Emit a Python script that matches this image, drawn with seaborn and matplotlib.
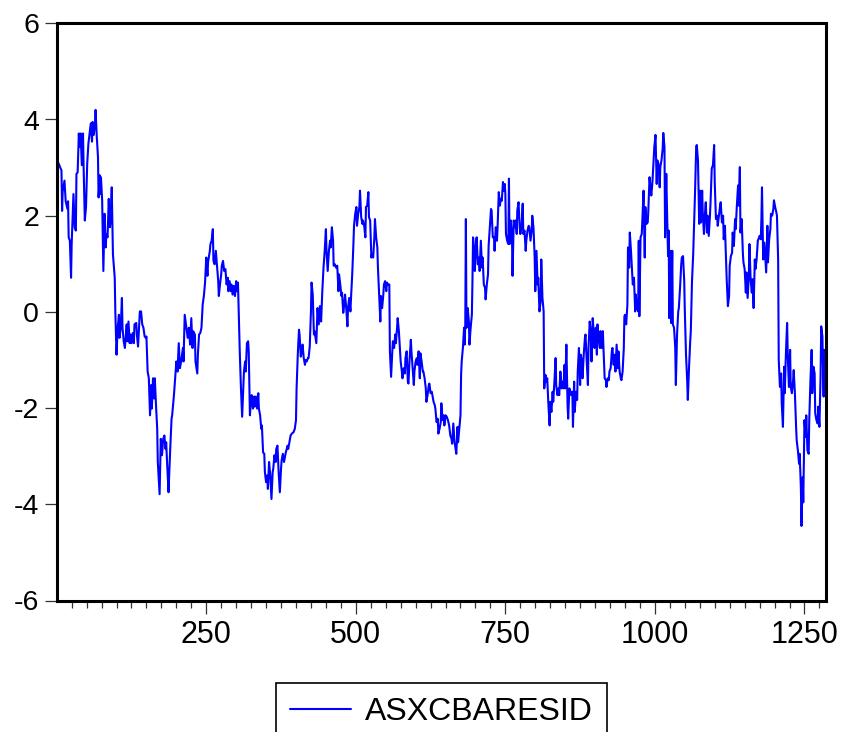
import numpy as np
import pandas as pd
import matplotlib
matplotlib.use("Agg")
import matplotlib.pyplot as plt
from matplotlib.ticker import MultipleLocator, FixedLocator
from matplotlib import font_manager
import seaborn as sns

# ---------------- data ----------------
series_name = "ASXCBARESID"
y_ticks = [-6, -4, -2, 0, 2, 4, 6]
x_major_ticks = [250, 500, 750, 1000, 1250]

seg1_obs = [2, 8, 9, 10, 13, 15, 18, 19, 20, 22, 24, 25, 28, 30, 32, 33, 35, 37, 38, 40,
            42, 44, 45, 47, 49, 51, 53, 55, 57, 59, 60, 62, 64, 65, 67, 69, 70, 72, 73, 74,
            76, 78, 80, 82, 83, 85, 87, 89, 90, 92, 94, 97, 98, 100, 102, 104, 105, 107, 109, 110,
            112, 114, 117, 118, 120, 122, 123, 125, 127, 129, 130, 133, 134, 136, 138, 139, 141, 143, 145, 147,
            149, 150, 152, 154, 156, 158, 159, 161, 163, 164, 166, 168, 169, 172, 174, 176, 178, 180, 182, 183,
            185, 187, 188, 190, 192, 193, 196, 198, 200, 202, 204, 206, 208, 211, 212, 214]
seg1_val = [3.12, 2.94, 2.1, 2.5, 2.73, 2.3, 2.14, 2.3, 1.55, 1.48,
            0.71, 1.41, 2.45, 1.76, 1.69, 2.87, 2.9, 3.71, 3.43, 3.71,
            3.05, 3.71, 3.01, 1.9, 2.18, 3.08, 3.5, 3.71, 3.92, 3.54,
            3.95, 3.68, 3.92, 4.2, 3.64, 3.22, 2.38, 2.84, 2.45, 2.8,
            2.31, 0.85, 2.04, 1.34, 1.62, 1.55, 2.35, 1.76, 1.9, 2.59,
            1.2, 0.71, 0.01, -0.89, -0.33, -0.06, -0.54, -0.33, 0.29, -0.33,
            -0.61, -0.75, -0.26, -0.61, -0.2, -0.65, -0.47, -0.65, -0.44, -0.65,
            -0.26, -0.23, -0.47, -0.72, -0.26, 0.01, 0.01, -0.26, -0.33, -0.51,
            -0.54, -0.51, -1.24, -1.38, -2.15, -1.52, -2.01, -1.38, -1.8, -1.38,
            -1.94, -2.43, -3.12, -3.79, -2.64, -2.98, -2.64, -2.57, -2.85, -2.71,
            -3.26, -3.75, -3.4, -2.78, -2.22, -2.15, -1.73, -1.38, -1.03, -1.24,
            -0.65, -1.17, -1.03, -0.75, -1.03, -0.06]

seg2_obs = [219, 221, 223, 225, 227, 228, 231, 232, 235, 236, 238, 240, 242, 244, 246, 248, 250, 252, 253, 256,
            257, 259, 261, 262, 264, 266, 268, 270, 271, 273, 275, 276, 278, 280, 282, 284, 286, 287, 289, 291,
            292, 294, 296, 298, 300, 301, 303, 305, 306, 308, 310, 311, 313, 315, 316, 318, 320, 321, 323, 325,
            326, 328, 330, 331, 333, 335, 337, 338, 340, 342, 343, 345, 347, 348, 350, 352, 353, 355, 357, 359,
            361, 362, 364, 366, 367, 369, 371, 373, 375, 376, 378, 380, 382, 383, 386, 387, 389, 391, 393, 396,
            398, 400, 401, 403, 405, 406, 408, 410, 411, 413, 415, 416, 418, 420, 421, 423, 425, 426, 428, 430,
            431]
seg2_val = [-0.54, -0.33, -0.68, -0.13, -0.75, -0.4, -0.47, -1.03, -1.28, -0.89,
            -0.47, -0.44, -0.33, 0.15, 0.33, 0.61, 1.13, 0.75, 1.03, 1.27,
            1.41, 1.48, 1.72, 1.06, 0.99, 1.27, 0.96, 0.64, 0.33, 0.57,
            0.78, 0.96, 1.06, 0.85, 0.89, 0.57, 0.71, 0.43, 0.64, 0.43,
            0.57, 0.36, 0.54, 0.33, 0.64, 0.43, 0.61, -0.33, -0.82, -1.59,
            -2.18, -1.87, -1.24, -1.03, -1.24, -0.65, -0.61, -0.82, -2.15, -1.8,
            -1.73, -2.01, -1.76, -1.97, -1.76, -2.01, -1.69, -2.01, -2.15, -2.43,
            -2.36, -2.92, -2.95, -3.33, -3.54, -3.4, -3.68, -3.12, -3.4, -3.89,
            -3.33, -3.26, -2.98, -3.12, -2.85, -2.78, -3.33, -3.75, -3.26, -3.09,
            -2.95, -3.12, -2.98, -2.92, -2.78, -2.85, -2.71, -2.57, -2.53, -2.5,
            -2.43, -2.25, -1.59, -0.89, -0.37, -0.47, -0.93, -0.82, -0.68, -0.96,
            -1.1, -1.0, -1.03, -0.96, -0.96, -0.72, 0.01, 0.61, 0.36, -0.47,
            -0.4]

seg3_obs = [434, 436, 438, 440, 442, 444, 446, 448, 450, 451, 453, 455, 457, 458, 460, 462, 463, 465, 467, 469,
            471, 472, 474, 476, 477, 479, 481, 482, 484, 486, 487, 489, 491, 492, 494, 496, 497, 499, 501, 502,
            504, 506, 507, 509, 511, 512, 514, 516, 517, 519, 521, 522, 524, 526, 527, 529, 531, 532, 534, 536,
            537, 539, 541, 542, 544, 546, 547, 549, 551, 552, 554, 556, 557, 559, 561, 562, 564, 566, 567, 569,
            570, 572, 573, 575, 577, 578, 580, 582, 583, 585, 587, 588, 590, 592, 593, 595, 597, 598, 600, 602,
            603, 605, 607, 608, 610, 612, 613, 615, 617, 618, 620, 622, 623, 625, 627, 628, 630, 632, 633, 635,
            637, 638, 640, 642, 643, 645, 647, 648]
seg3_val = [-0.65, 0.08, -0.26, 0.12, -0.2, 0.43, 0.92, 1.27, 1.72, 1.27,
            0.85, 1.27, 1.48, 1.34, 1.76, 1.48, 0.96, 0.99, 0.92, 0.96,
            0.43, 0.78, 0.57, 0.33, 0.4, -0.02, 0.19, 0.36, 0.08, -0.3,
            0.08, 0.29, 0.01, 0.29, 0.78, 1.41, 1.79, 2.04, 2.18, 1.79,
            2.04, 2.18, 2.52, 1.97, 1.83, 1.9, 1.79, 1.55, 2.18, 2.21,
            2.49, 1.97, 1.9, 1.13, 1.2, 1.13, 1.55, 1.93, 1.55, 1.34,
            0.92, 0.36, -0.2, 0.33, 0.08, 0.36, 0.57, 0.64, 0.43, 0.61,
            0.57, 0.57, -0.82, -1.35, -0.82, -0.61, -0.75, -0.47, -0.65, -0.33,
            -0.13, -0.4, -0.61, -1.03, -1.24, -1.38, -1.17, -1.28, -0.96, -0.82,
            -1.45, -1.49, -0.96, -0.58, -0.82, -1.17, -1.52, -1.24, -1.03, -0.96,
            -1.1, -0.82, -1.38, -0.86, -1.03, -1.24, -1.24, -1.38, -1.59, -1.87,
            -1.73, -1.52, -1.49, -1.69, -1.66, -1.73, -1.87, -1.94, -2.01, -2.29,
            -2.22, -2.53, -2.43, -2.29, -1.9, -2.25, -2.15, -2.36]

seg4_obs = [650, 652, 654, 656, 658, 660, 661, 663, 665, 666, 668, 670, 671, 673, 675, 676, 677, 679, 681, 682,
            683, 684, 685, 687, 689, 690, 692, 694, 695, 696, 698, 699, 701, 702, 704, 706, 707, 709, 711, 712,
            714, 716, 717, 719, 721, 722, 724, 726, 727, 729, 731, 732, 734, 736, 737, 739, 741, 742, 744, 746,
            747, 749, 750, 751, 753, 755, 756, 757, 759, 761, 762, 764, 765, 767, 769, 770, 772, 774, 775, 777,
            779, 780, 782, 784, 785, 787, 789, 790, 792, 794, 795, 797, 799, 800, 802, 804, 805, 807, 809, 810,
            812, 814, 815, 817, 819, 820, 822, 824, 825, 827, 829, 830, 832, 834, 835, 837, 839, 840, 842, 844,
            845, 847, 849, 850, 852, 854, 855, 857, 859, 860, 862, 863, 865]
seg4_val = [-2.15, -2.18, -2.25, -2.36, -2.57, -2.64, -2.74, -2.32, -2.71, -2.78,
            -2.95, -2.39, -2.71, -2.43, -2.15, -1.31, -1.03, -0.75, -0.33, -0.68,
            -0.26, 1.93, -0.33, 0.08, -0.2, -0.68, -0.33, -0.06, 0.64, 1.55,
            1.27, 0.85, 1.44, 1.55, 0.99, 1.13, 0.85, 1.48, 0.92, 1.13,
            0.57, 0.5, 0.26, 0.57, 0.78, 1.37, 1.76, 2.14, 2.11, 1.55,
            1.55, 1.27, 1.76, 1.48, 1.76, 2.49, 2.21, 2.35, 2.31, 2.7,
            2.52, 2.66, 2.45, 1.62, 1.48, 1.41, 2.77, 1.41, 1.9, 1.62,
            0.75, 1.9, 1.76, 1.9, 1.62, 2.11, 2.28, 1.76, 1.62, 1.76,
            2.25, 1.62, 1.69, 1.27, 1.48, 1.69, 1.79, 1.76, 1.48, 1.69,
            2.0, 1.76, 1.13, 0.43, 1.27, 0.57, 0.71, 0.01, 0.22, 1.09,
            0.29, 0.01, -1.59, -1.31, -1.45, -1.38, -1.94, -2.36, -1.87, -2.08,
            -1.66, -1.87, -1.45, -0.96, -1.52, -1.73, -1.59, -1.73, -1.24, -1.59,
            -1.45, -1.59, -1.1, -1.59, -0.68, -1.94, -2.22, -1.59, -1.66, -1.73,
            -1.66, -2.39, -1.45]

seg5_obs = [866, 868, 870, 871, 873, 875, 876, 878, 879, 881, 883, 884, 886, 888, 889, 891, 893, 894, 896, 898,
            899, 901, 903, 904, 906, 908, 909, 911, 913, 914, 916, 918, 919, 921, 923, 924, 926, 928, 929, 931,
            933, 934, 936, 938, 939, 941, 943, 944, 946, 948, 949, 950, 952, 954, 955, 957, 958, 960, 962, 963,
            965, 967, 968, 970, 972, 973, 974, 976, 978, 979, 981, 983, 984, 986, 988, 989, 991, 993, 994, 996,
            998, 999, 1001, 1003, 1004, 1006, 1008, 1009, 1011, 1013, 1014, 1016, 1017, 1019, 1020, 1022, 1023, 1024, 1026, 1027,
            1029, 1030, 1032, 1034, 1035, 1037, 1039, 1040, 1042, 1044, 1045, 1047, 1049, 1050, 1052, 1054, 1055, 1057, 1059, 1060,
            1062, 1064, 1065, 1067, 1069, 1070, 1072, 1074, 1075, 1077, 1079, 1080, 1082]
seg5_val = [-2.08, -1.66, -1.83, -1.24, -0.75, -1.52, -0.89, -1.03, -1.38, -0.89,
            -0.54, -0.47, -1.03, -1.52, -0.75, -0.2, -0.47, -1.03, -0.13, -0.47,
            -0.75, -0.33, -0.89, -0.26, -0.54, -0.75, -0.4, -0.75, -0.4, -0.75,
            -1.38, -1.42, -1.56, -1.38, -1.42, -1.24, -1.17, -0.82, -0.75, -1.1,
            -0.89, -1.24, -0.68, -1.17, -0.82, -1.24, -1.38, -1.42, -1.24, -0.75,
            -0.09, -0.06, -0.26, 0.15, 1.34, 0.92, 1.65, 1.27, 0.78, 0.57,
            0.71, 0.01, 0.36, 0.08, 0.01, 1.48, -0.09, 1.55, 1.62, 1.9,
            2.52, 1.13, 2.18, 1.83, 1.86, 2.11, 2.8, 2.52, 2.42, 2.73,
            3.22, 3.43, 3.68, 2.66, 3.15, 3.08, 2.59, 3.01, 3.15, 3.4,
            3.72, 3.43, 1.55, 2.87, 2.25, 1.16, 1.69, -0.13, 1.27, -0.23,
            1.27, -0.26, -0.33, -0.75, -1.52, -0.47, 0.01, 0.08, 0.5, 0.99,
            1.13, 1.16, 0.64, 0.01, -0.89, -1.45, -1.83, -1.17, -0.61, -0.4,
            0.64, 1.2, 1.62, 2.45, 3.43, 3.47, 3.15, 1.83, 2.52, 1.86,
            2.52, 2.04, 1.62]

seg6_obs = [1083, 1085, 1087, 1088, 1090, 1092, 1093, 1095, 1097, 1099, 1100, 1102, 1104, 1105, 1107, 1109, 1110, 1112, 1114, 1115,
            1117, 1119, 1120, 1122, 1124, 1125, 1127, 1129, 1130, 1132, 1134, 1135, 1137, 1139, 1140, 1142, 1143, 1145, 1147, 1148,
            1150, 1152, 1153, 1155, 1157, 1158, 1160, 1162, 1163, 1165, 1167, 1168, 1170, 1172, 1173, 1175, 1177, 1178, 1179, 1181,
            1183, 1184, 1186, 1188, 1189, 1191, 1193, 1194, 1196, 1198, 1199, 1201, 1203, 1204, 1206, 1207, 1209, 1211, 1212, 1214,
            1216, 1217, 1219, 1221, 1222, 1224, 1226, 1227, 1229, 1231, 1232, 1234, 1236, 1237, 1239, 1241, 1242, 1244, 1245, 1247,
            1248, 1250, 1252, 1253, 1255, 1257, 1258, 1260, 1262, 1263, 1265, 1267, 1268, 1270, 1272, 1273, 1275, 1277, 1278, 1280,
            1282, 1283, 1284]
seg6_val = [1.93, 2.28, 1.65, 2.0, 1.58, 2.0, 2.28, 2.98, 3.05, 3.47,
            2.7, 1.93, 2.0, 1.79, 2.0, 2.21, 2.28, 1.86, 2.0, 1.51,
            1.79, 1.09, 0.68, 0.12, 0.33, 0.96, 1.16, 1.23, 1.65, 1.37,
            1.93, 1.72, 2.21, 2.63, 2.21, 3.01, 1.65, 1.93, 1.23, 1.03,
            0.89, 0.4, 0.82, 0.29, 0.75, 1.41, 0.68, 0.4, 0.68, 0.08,
            1.09, 0.89, 1.09, 1.48, 1.51, 1.58, 1.51, 1.93, 2.59, 1.09,
            1.44, 1.23, 0.82, 1.79, 1.03, 1.51, 1.72, 2.04, 2.0, 2.14,
            2.32, 2.18, 2.07, 2.0, 1.09, -1.0, -1.56, -1.28, -1.9, -2.39,
            -1.14, -1.69, -0.86, -0.23, -0.86, -1.56, -0.79, -1.56, -1.69, -1.42,
            -1.21, -1.69, -2.39, -2.67, -2.88, -3.16, -2.95, -3.65, -4.45, -3.44,
            -3.96, -2.25, -2.6, -2.15, -2.88, -2.95, -2.25, -1.42, -0.79, -1.69,
            -1.14, -1.28, -2.11, -2.25, -2.32, -1.97, -2.39, -1.28, -0.3, -0.51,
            -1.76, -0.79, -0.86]

obs = seg1_obs + seg2_obs + seg3_obs + seg4_obs + seg5_obs + seg6_obs
vals = seg1_val + seg2_val + seg3_val + seg4_val + seg5_val + seg6_val
df = pd.DataFrame({"obs": obs, series_name: vals})

# ---------------- style ----------------
sns.set_style("white")
installed = {f.name for f in font_manager.fontManager.ttflist}
base_font = "Liberation Sans" if "Liberation Sans" in installed else "DejaVu Sans"
plt.rcParams["font.family"] = [base_font, "DejaVu Sans"]
plt.rcParams["text.color"] = "black"

W, H = 842, 732
fig = plt.figure(figsize=(W / 100, H / 100), dpi=100)
fig.patch.set_facecolor("white")
left, right, top, bottom = 57.3, 826, 23.3, 600.5
ax = fig.add_axes([left / W, 1 - bottom / H, (right - left) / W, (bottom - top) / H])

sns.lineplot(data=df, x="obs", y=series_name, ax=ax, color="#0000FF",
             linewidth=1.5, estimator=None, sort=False, label=series_name, legend=False)

ax.set_xlim(1, 1286)
ax.set_ylim(-6, 6)
ax.set_xlabel("")
ax.set_ylabel("")
ax.yaxis.set_major_locator(FixedLocator(y_ticks))
ax.set_yticklabels([str(t) for t in y_ticks])
ax.xaxis.set_major_locator(FixedLocator(x_major_ticks))
ax.xaxis.set_minor_locator(MultipleLocator(25))
ax.set_xticklabels([str(t) for t in x_major_ticks])

for s in ax.spines.values():
    s.set_visible(True)
    s.set_color("black")
    s.set_linewidth(2.2)

ax.tick_params(axis="y", which="major", direction="out", length=8.6, width=0.9,
               color="#333333", labelsize=20.5, labelcolor="black", pad=4.5, left=True)
ax.tick_params(axis="x", which="major", direction="out", length=9.4, width=0.9,
               color="#333333", labelsize=22, labelcolor="black", pad=4.5, bottom=True)
ax.tick_params(axis="x", which="minor", direction="out", length=5, width=0.9,
               color="#333333", bottom=True)

handles, labels = ax.get_legend_handles_labels()
leg = fig.legend(handles, labels, loc="upper center",
                 bbox_to_anchor=((left + right) / 2 / W, 1 - 682.7 / H),
                 frameon=True, fancybox=False, shadow=False, framealpha=1,
                 edgecolor="black", handlelength=1.9, handletextpad=0.44,
                 borderpad=0.45, borderaxespad=0, labelcolor="black",
                 prop={"family": base_font, "size": 23})
leg.get_frame().set_linewidth(1.2)
for line in leg.get_lines():
    line.set_linewidth(1.5)

fig.savefig("out.png", dpi=100, facecolor="white")
